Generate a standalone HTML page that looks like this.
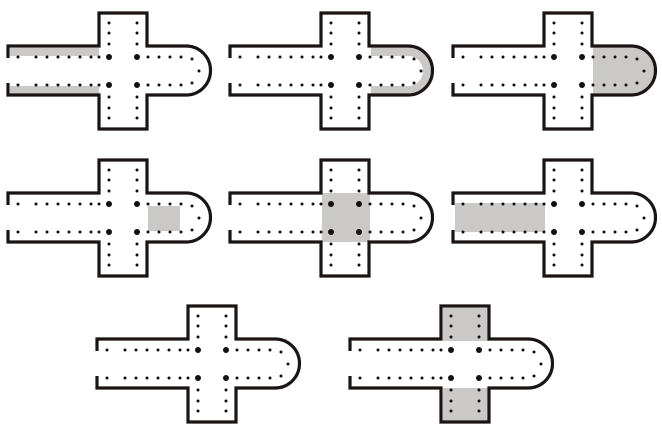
<!DOCTYPE html>
<html><head><style>html,body{margin:0;padding:0;background:#fff}svg{display:block}</style></head>
<body>
<svg width="662" height="435" viewBox="0 0 662 435" xmlns="http://www.w3.org/2000/svg">
<defs>
<g id="plan">
<path d="M8,58 V46 H99 V13 H147 V46 H186 A24.5,24.5 0 0 1 186,95 H147 V129 H99 V95 H8 V83" fill="none" stroke="#1a1414" stroke-width="3.2"/>
<g fill="#111">
<circle cx="18" cy="57" r="1.5"/><circle cx="36" cy="57" r="1.5"/><circle cx="47" cy="57" r="1.5"/><circle cx="58" cy="57" r="1.5"/><circle cx="69" cy="57" r="1.5"/><circle cx="80" cy="57" r="1.5"/><circle cx="91" cy="57" r="1.5"/><circle cx="99" cy="57" r="1.5"/>
<circle cx="18" cy="85" r="1.5"/><circle cx="36" cy="85" r="1.5"/><circle cx="47" cy="85" r="1.5"/><circle cx="58" cy="85" r="1.5"/><circle cx="69" cy="85" r="1.5"/><circle cx="80" cy="85" r="1.5"/><circle cx="91" cy="85" r="1.5"/><circle cx="99" cy="85" r="1.5"/>
<circle cx="109" cy="57" r="3"/><circle cx="137" cy="57" r="3"/><circle cx="109" cy="85" r="3"/><circle cx="137" cy="85" r="3"/>
<circle cx="148" cy="57" r="1.5"/><circle cx="159" cy="57" r="1.5"/><circle cx="170" cy="57" r="1.5"/><circle cx="181" cy="57" r="1.5"/>
<circle cx="148" cy="85" r="1.5"/><circle cx="159" cy="85" r="1.5"/><circle cx="170" cy="85" r="1.5"/><circle cx="181" cy="85" r="1.5"/>
<circle cx="192" cy="59" r="1.5"/><circle cx="199" cy="71" r="1.5"/><circle cx="192" cy="83" r="1.5"/>
<circle cx="109" cy="23" r="1.5"/><circle cx="109" cy="33" r="1.5"/><circle cx="109" cy="44" r="1.5"/>
<circle cx="137" cy="23" r="1.5"/><circle cx="137" cy="33" r="1.5"/><circle cx="137" cy="44" r="1.5"/>
<circle cx="109" cy="97" r="1.5"/><circle cx="109" cy="108" r="1.5"/><circle cx="109" cy="118" r="1.5"/>
<circle cx="137" cy="97" r="1.5"/><circle cx="137" cy="108" r="1.5"/><circle cx="137" cy="118" r="1.5"/>
</g>
</g>
</defs>
<g fill="#cbc8c8">
<!-- P1 -->
<rect x="10" y="48" width="89" height="8"/><rect x="10" y="86" width="89" height="8"/>
<!-- P2 -->
<path transform="translate(222,0)" d="M149,51.5 H186 A19.5,19.5 0 0 1 186,90.5 H149" fill="none" stroke="#cbc8c8" stroke-width="9"/>
<!-- P3 -->
<path transform="translate(445,0)" d="M148,47.5 H186 A23,23 0 0 1 186,93.5 H148 Z"/>
<!-- P4 -->
<rect x="148" y="206" width="32" height="25"/>
<!-- P5 -->
<rect x="322" y="193" width="48" height="49"/>
<!-- P6 -->
<rect x="455" y="203" width="90" height="29"/>
<!-- P8 -->
<rect x="443" y="308" width="46" height="33"/><rect x="443" y="388" width="46" height="33"/>
</g>
<use href="#plan" transform="translate(0,0)"/>
<use href="#plan" transform="translate(222,0)"/>
<use href="#plan" transform="translate(445,0)"/>
<use href="#plan" transform="translate(0,147)"/>
<use href="#plan" transform="translate(222,147)"/>
<use href="#plan" transform="translate(445,147)"/>
<use href="#plan" transform="translate(89,293)"/>
<use href="#plan" transform="translate(342,293)"/>
</svg>
</body></html>
